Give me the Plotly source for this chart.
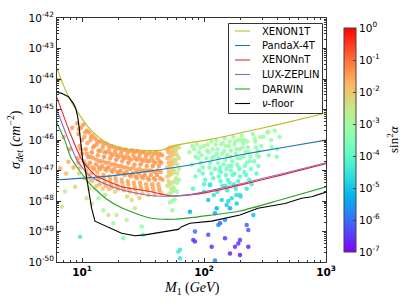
import math
import plotly.graph_objects as go

# ---------------- curve data (mass in GeV, log10 sigma in cm^2) ----------------
xenon1t_M = [6.0, 6.24, 7.03, 8.28, 11.2, 15.45, 21.3, 32.8, 43.6, 61.2, 116.4, 197, 420, 1014]
xenon1t_logsig = [-43.61, -43.67, -44.20, -44.79, -45.57, -46.07, -46.26, -46.35, -46.34, -46.16, -45.97, -45.77, -45.48, -45.11]

pandax_M = [6.0, 14.03, 36.1, 76.7, 197, 420, 1014]
pandax_logsig = [-47.31, -47.21, -47.02, -46.82, -46.49, -46.26, -46.0]

xenonnt_M = [6.0, 6.24, 7.98, 10.0, 12.79, 15.45, 21.3, 36.1, 52.6, 76.7, 112, 197, 420, 1014]
xenonnt_logsig = [-44.47, -44.62, -45.77, -46.66, -47.15, -47.31, -47.53, -47.69, -47.83, -47.80, -47.70, -47.48, -47.16, -46.77]

lz_M = [6.0, 6.24, 9.1, 11.61, 15.45, 21.3, 36.1, 52.6, 76.7, 112, 197, 420, 1014]
lz_logsig = [-44.85, -45.02, -46.66, -47.18, -47.44, -47.64, -47.82, -47.84, -47.79, -47.66, -47.44, -47.12, -46.74]

darwin_M = [6.0, 6.24, 7.26, 8.13, 11.2, 15.45, 21.3, 36.1, 57.8, 116.4, 197, 420, 1014]
darwin_logsig = [-45.28, -45.44, -46.03, -46.59, -47.37, -47.90, -48.23, -48.56, -48.60, -48.46, -48.33, -47.97, -47.53]

nufloor_M = [6.01, 6.82, 7.73, 8.49, 8.88, 9.22, 9.45, 9.75, 10.13, 10.59, 11.27, 12.0, 12.77, 15.4,
             21.1, 27.2, 32.8, 61.5, 65.6, 76.7, 115.6, 197, 277, 461, 632, 764, 1014]
nufloor_logsig = [-44.42, -44.47, -44.58, -44.80, -44.96, -45.24, -45.56, -46.00, -46.66, -46.93, -47.58,
                  -48.24, -48.66, -48.81, -49.06, -49.14, -49.11, -48.93, -48.84, -48.73, -48.66, -48.46,
                  -48.24, -48.08, -47.91, -47.86, -47.70]

# ---------------- scan points: (log10 M, log10 sigma, log10 sin^2 alpha) ----------------
pts_orange = [
    (0.96, -45.45, -1.5), (0.97, -45.8, -1.4), (0.98, -46.2, -1.6), (0.965, -46.6, -1.5), (0.99, -45.6, -1.3),
    (0.985, -46.9, -1.8), (1.0, -46.0, -1.4), (0.975, -47.1, -2.2), (1.0, -46.45, -1.5),
    (1.01, -45.5, -1.4), (1.02, -45.9, -1.5), (1.03, -46.3, -1.4), (1.015, -46.7, -1.6), (1.04, -45.7, -1.3),
    (1.045, -46.1, -1.5), (1.035, -47.0, -1.7), (1.02, -47.25, -2.1), (1.05, -46.55, -1.4), (1.05, -46.85, -1.5),
    (1.06, -45.75, -1.4), (1.07, -46.0, -1.5), (1.08, -46.4, -1.3), (1.065, -46.75, -1.4), (1.09, -45.85, -1.6),
    (1.1, -46.2, -1.4), (1.075, -47.1, -1.6), (1.095, -46.6, -1.5), (1.085, -47.35, -2.0), (1.1, -46.95, -1.4),
    (1.06, -47.6, -2.4),
    (1.11, -45.95, -1.4), (1.12, -46.15, -1.5), (1.13, -46.5, -1.4), (1.115, -46.8, -1.3), (1.14, -46.05, -1.5),
    (1.15, -46.35, -1.4), (1.125, -47.05, -1.6), (1.145, -46.7, -1.4), (1.135, -47.3, -1.5), (1.15, -46.95, -1.5),
    (1.12, -47.5, -1.9),
    (1.16, -46.05, -1.4), (1.17, -46.25, -1.5), (1.18, -46.55, -1.3), (1.165, -46.85, -1.4), (1.19, -46.1, -1.6),
    (1.2, -46.4, -1.4), (1.175, -47.15, -1.5), (1.195, -46.75, -1.4), (1.185, -47.4, -1.6), (1.2, -47.0, -1.5),
    (1.17, -47.6, -2.0), (1.19, -47.8, -2.5),
    (1.21, -46.15, -1.4), (1.22, -46.35, -1.5), (1.23, -46.6, -1.4), (1.215, -46.9, -1.3), (1.24, -46.2, -1.5),
    (1.25, -46.5, -1.4), (1.225, -47.2, -1.6), (1.245, -46.8, -1.4), (1.235, -47.45, -1.5), (1.25, -47.05, -1.5),
    (1.22, -47.6, -1.8),
    (1.26, -46.22, -1.4), (1.27, -46.4, -1.5), (1.28, -46.65, -1.3), (1.265, -46.95, -1.4), (1.29, -46.27, -1.5),
    (1.3, -46.55, -1.4), (1.275, -47.25, -1.5), (1.295, -46.85, -1.4), (1.285, -47.5, -1.6), (1.3, -47.1, -1.5),
    (1.27, -47.7, -2.2),
    (1.31, -46.28, -1.4), (1.32, -46.45, -1.5), (1.33, -46.7, -1.4), (1.315, -47.0, -1.3), (1.34, -46.32, -1.5),
    (1.35, -46.6, -1.4), (1.325, -47.3, -1.6), (1.345, -46.9, -1.4), (1.335, -47.55, -1.5), (1.35, -47.15, -1.5),
    (1.36, -46.32, -1.4), (1.37, -46.5, -1.5), (1.38, -46.75, -1.3), (1.365, -47.05, -1.4), (1.39, -46.36, -1.5),
    (1.4, -46.65, -1.4), (1.375, -47.35, -1.5), (1.395, -46.95, -1.4), (1.385, -47.6, -1.6), (1.4, -47.2, -1.5),
    (1.37, -47.85, -2.3),
    (1.41, -46.34, -1.4), (1.42, -46.5, -1.5), (1.43, -46.8, -1.4), (1.415, -47.1, -1.3), (1.44, -46.37, -1.5),
    (1.45, -46.65, -1.4), (1.425, -47.4, -1.6), (1.445, -47.0, -1.4), (1.435, -47.6, -1.5), (1.45, -47.25, -1.5),
    (1.46, -46.37, -1.4), (1.47, -46.55, -1.5), (1.48, -46.8, -1.3), (1.465, -47.1, -1.4), (1.49, -46.4, -1.5),
    (1.5, -46.7, -1.4), (1.475, -47.4, -1.5), (1.495, -47.0, -1.4), (1.485, -47.6, -1.6), (1.5, -47.25, -1.5),
    (1.47, -47.9, -2.0),
    (1.51, -46.4, -1.4), (1.52, -46.6, -1.5), (1.53, -46.85, -1.4), (1.515, -47.15, -1.3), (1.54, -46.45, -1.5),
    (1.55, -46.7, -1.4), (1.525, -47.45, -1.6), (1.545, -47.0, -1.4), (1.535, -47.65, -1.5), (1.55, -47.3, -1.5),
    (1.56, -46.4, -1.4), (1.57, -46.6, -1.5), (1.58, -46.85, -1.3), (1.565, -47.15, -1.4), (1.59, -46.45, -1.5),
    (1.6, -46.75, -1.4), (1.575, -47.45, -1.5), (1.595, -47.05, -1.4), (1.585, -47.65, -1.6), (1.6, -47.3, -1.5),
    (1.61, -46.4, -1.4), (1.62, -46.6, -1.5), (1.63, -46.85, -1.4), (1.615, -47.15, -1.3), (1.64, -46.45, -1.5),
    (1.65, -46.75, -1.4), (1.625, -47.45, -1.6), (1.645, -47.05, -1.4), (1.635, -47.65, -1.5), (1.66, -47.3, -1.5),
    (1.655, -46.5, -1.4),
    (0.806, -44.03, -1.5), (0.85, -45.9, -1.6), (0.9, -46.3, -1.5), (0.87, -47.1, -1.8), (0.93, -46.9, -1.6),
    (0.92, -45.6, -1.5), (0.82, -46.93, -1.6), (0.888, -46.71, -1.7),
]

pts_orange2 = [
    (0.975, -45.65, -1.5), (0.99, -46.3, -1.4), (0.97, -46.75, -1.6),
    (1.025, -45.75, -1.5), (1.04, -46.45, -1.4), (1.03, -46.8, -1.5), (1.045, -47.15, -1.8),
    (1.075, -45.9, -1.4), (1.09, -46.25, -1.5), (1.07, -46.55, -1.4), (1.085, -46.9, -1.5), (1.07, -47.3, -1.7),
    (1.125, -46.05, -1.5), (1.135, -46.35, -1.4), (1.12, -46.65, -1.5), (1.14, -46.9, -1.4), (1.13, -47.2, -1.6),
    (1.145, -47.45, -1.7),
    (1.175, -46.15, -1.5), (1.185, -46.4, -1.4), (1.17, -46.7, -1.5), (1.19, -46.95, -1.4), (1.18, -47.25, -1.6),
    (1.195, -47.5, -1.7),
    (1.225, -46.25, -1.5), (1.235, -46.45, -1.4), (1.22, -46.75, -1.5), (1.24, -47.0, -1.4), (1.23, -47.3, -1.6),
    (1.245, -47.55, -1.7),
    (1.275, -46.3, -1.5), (1.285, -46.5, -1.4), (1.27, -46.8, -1.5), (1.29, -47.05, -1.4), (1.28, -47.35, -1.6),
    (1.295, -47.6, -1.7),
    (1.325, -46.35, -1.5), (1.335, -46.55, -1.4), (1.32, -46.85, -1.5), (1.34, -47.1, -1.4), (1.33, -47.4, -1.6),
    (1.345, -47.65, -1.7),
    (1.375, -46.4, -1.5), (1.385, -46.6, -1.4), (1.37, -46.9, -1.5), (1.39, -47.15, -1.4), (1.38, -47.45, -1.6),
    (1.395, -47.7, -1.8),
    (1.425, -46.4, -1.5), (1.435, -46.6, -1.4), (1.42, -46.9, -1.5), (1.44, -47.2, -1.4), (1.43, -47.5, -1.6),
    (1.445, -47.75, -1.8),
    (1.475, -46.45, -1.5), (1.485, -46.65, -1.4), (1.47, -46.95, -1.5), (1.49, -47.2, -1.4), (1.48, -47.5, -1.6),
    (1.495, -47.75, -1.8),
    (1.525, -46.5, -1.5), (1.535, -46.7, -1.4), (1.52, -47.0, -1.5), (1.54, -47.25, -1.4), (1.53, -47.55, -1.6),
    (1.545, -47.8, -1.9),
    (1.575, -46.5, -1.5), (1.585, -46.7, -1.4), (1.57, -47.0, -1.5), (1.59, -47.25, -1.4), (1.58, -47.55, -1.6),
    (1.595, -47.8, -1.9),
    (1.625, -46.5, -1.5), (1.635, -46.7, -1.4), (1.62, -47.0, -1.5), (1.64, -47.25, -1.4), (1.63, -47.55, -1.6),
    (1.65, -47.75, -1.9),
]

pts_band = [
    (1.70, -46.3, -1.6), (1.70, -46.6, -1.7), (1.70, -46.9, -1.8), (1.70, -47.2, -2.0), (1.70, -47.5, -2.3), (1.70, -47.8, -2.6),
    (1.72, -46.25, -1.7), (1.72, -46.55, -1.8), (1.72, -46.85, -1.9), (1.72, -47.15, -2.1), (1.72, -47.45, -2.4),
    (1.72, -47.75, -2.7), (1.72, -48.05, -3.0),
    (1.74, -46.25, -1.8), (1.74, -46.5, -1.9), (1.74, -46.8, -2.0), (1.74, -47.1, -2.2), (1.74, -47.4, -2.5),
    (1.74, -47.7, -2.8), (1.74, -48.0, -3.1), (1.74, -48.3, -3.3),
    (1.76, -46.22, -2.0), (1.76, -46.45, -2.1), (1.76, -46.75, -2.2), (1.76, -47.05, -2.4), (1.76, -47.35, -2.6),
    (1.76, -47.65, -2.9), (1.76, -47.95, -3.2),
    (1.78, -46.22, -2.2), (1.78, -46.5, -2.3), (1.78, -46.8, -2.4), (1.78, -47.1, -2.6), (1.78, -47.4, -2.8), (1.78, -47.7, -3.0),
    (1.795, -46.25, -2.5), (1.795, -46.6, -2.6), (1.795, -46.95, -2.8), (1.795, -47.3, -3.0),
    (1.71, -46.4, -1.6), (1.71, -46.75, -1.8), (1.71, -47.05, -2.0), (1.71, -47.35, -2.2), (1.73, -46.4, -1.8),
    (1.73, -46.7, -1.9), (1.73, -47.0, -2.1), (1.73, -47.6, -2.6), (1.75, -46.35, -2.0), (1.75, -46.65, -2.1),
    (1.75, -46.95, -2.3), (1.75, -47.55, -2.7), (1.77, -46.35, -2.2), (1.77, -46.65, -2.3), (1.77, -47.25, -2.6),
]

pts_green = [
    (1.88, -46.4, -3.0), (1.9, -46.8, -3.3), (1.92, -46.3, -3.1), (1.93, -47.2, -3.8), (1.95, -46.6, -3.4),
    (1.91, -47.6, -4.2), (1.94, -46.15, -3.0),
    (1.97, -46.25, -3.1), (1.98, -46.5, -3.3), (1.99, -46.9, -3.6), (2.0, -46.2, -3.0), (2.01, -47.3, -4.0),
    (1.96, -47.0, -3.8), (2.02, -46.6, -3.4), (2.0, -47.7, -4.5),
    (2.03, -46.15, -3.0), (2.04, -46.4, -3.2), (2.05, -46.75, -3.5), (2.06, -47.1, -3.9), (2.07, -46.3, -3.2),
    (2.08, -46.55, -3.4), (2.09, -46.95, -3.7), (2.05, -47.45, -4.2), (2.08, -47.8, -4.6), (2.06, -46.05, -3.0),
    (2.1, -46.0, -3.0), (2.11, -46.3, -3.2), (2.12, -46.6, -3.4), (2.13, -46.9, -3.7), (2.14, -46.15, -3.1),
    (2.15, -46.45, -3.3), (2.16, -46.8, -3.6), (2.12, -47.2, -4.0), (2.15, -47.5, -4.3), (2.11, -47.7, -4.5),
    (2.14, -47.05, -3.9),
    (2.17, -45.95, -3.0), (2.18, -46.2, -3.1), (2.19, -46.5, -3.3), (2.2, -46.85, -3.6), (2.21, -46.05, -3.1),
    (2.22, -46.35, -3.3), (2.23, -46.7, -3.5), (2.18, -47.15, -4.0), (2.21, -47.4, -4.2), (2.19, -47.65, -4.5),
    (2.22, -47.0, -3.8), (2.2, -48.0, -4.8),
    (2.24, -45.9, -3.0), (2.25, -46.15, -3.1), (2.26, -46.45, -3.3), (2.27, -46.8, -3.6), (2.28, -46.0, -3.1),
    (2.29, -46.3, -3.3), (2.3, -46.6, -3.5), (2.25, -47.1, -3.9), (2.28, -47.35, -4.2), (2.26, -47.6, -4.4),
    (2.29, -46.95, -3.8), (2.3, -47.85, -4.7),
    (2.31, -45.85, -3.0), (2.32, -46.1, -3.1), (2.34, -46.4, -3.3), (2.35, -46.75, -3.6), (2.33, -46.0, -3.2),
    (2.36, -46.25, -3.3), (2.38, -46.55, -3.5), (2.33, -47.05, -3.9), (2.37, -47.3, -4.2), (2.35, -47.6, -4.5),
    (2.4, -45.8, -3.0), (2.42, -46.05, -3.1), (2.44, -46.35, -3.3), (2.41, -46.7, -3.6), (2.46, -45.9, -3.1),
    (2.45, -46.55, -3.4), (2.43, -47.1, -4.0), (2.47, -46.2, -3.2),
    (2.52, -45.75, -3.1), (2.55, -46.0, -3.2), (2.58, -45.7, -3.1), (2.6, -46.3, -3.4), (2.53, -46.5, -3.6),
    (2.62, -45.9, -3.2), (2.527, -45.73, -3.1), (2.555, -46.22, -3.3), (2.596, -46.55, -3.5), (2.486, -45.89, -3.2),
]

pts_green2 = [
    (2.025, -46.35, -3.2), (2.045, -46.9, -3.6), (2.065, -46.6, -3.4), (2.075, -47.25, -4.0),
    (2.095, -46.15, -3.1), (2.105, -46.45, -3.3), (2.115, -46.75, -3.5), (2.125, -47.0, -3.8), (2.135, -47.35, -4.1),
    (2.155, -46.1, -3.1), (2.165, -46.35, -3.2), (2.175, -46.65, -3.4), (2.185, -46.95, -3.7), (2.195, -47.3, -4.1),
    (2.175, -47.5, -4.4),
    (2.205, -46.2, -3.1), (2.215, -46.55, -3.4), (2.225, -46.85, -3.6), (2.235, -47.15, -4.0), (2.245, -47.45, -4.3),
    (2.255, -46.05, -3.1), (2.265, -46.3, -3.2), (2.275, -46.6, -3.4), (2.285, -46.9, -3.7), (2.295, -47.2, -4.0),
    (2.265, -47.8, -4.6),
    (2.305, -46.0, -3.1), (2.315, -46.25, -3.2), (2.325, -46.55, -3.4), (2.335, -46.85, -3.7), (2.345, -47.15, -4.0),
    (2.355, -46.05, -3.1), (2.365, -46.4, -3.3), (2.375, -46.7, -3.5), (2.385, -46.95, -3.8), (2.39, -47.45, -4.3),
    (2.415, -45.95, -3.1), (2.425, -46.25, -3.2), (2.435, -46.5, -3.4), (2.445, -46.85, -3.7),
    (1.96, -46.4, -3.2), (1.975, -46.75, -3.5), (1.99, -47.1, -3.9), (1.93, -46.55, -3.3), (1.905, -46.2, -3.0),
    (2.0, -47.45, -4.2),
]

pts_sparse = [
    (1.885, -48.35, -5.3), (2.035, -47.97, -5.0), (2.131, -48.73, -6.3), (1.912, -49.28, -6.5), (2.035, -49.11, -6.3),
    (2.063, -49.5, -6.6), (1.926, -49.0, -6.0), (2.172, -49.22, -6.5), (2.213, -49.72, -6.8), (2.254, -49.5, -6.6),
    (2.295, -49.28, -6.5), (2.35, -48.79, -6.1), (2.363, -48.95, -6.2), (2.363, -49.5, -6.7), (2.172, -48.62, -5.5),
    (2.213, -48.24, -5.3), (2.104, -48.24, -5.2), (1.803, -49.6, -4.5), (1.803, -49.88, -4.5), (2.09, -49.95, -5.8),
    (1.926, -49.33, -6.5), (2.117, -48.79, -5.6), (1.789, -49.66, -4.3), (2.049, -47.48, -4.5), (2.145, -47.97, -4.8),
    (2.186, -48.13, -4.9), (2.227, -47.91, -4.7), (2.268, -48.08, -4.9), (2.09, -48.4, -5.3), (2.295, -47.8, -4.6),
    (2.404, -48.46, -5.0), (2.281, -49.39, -6.6), (2.295, -49.77, -6.8),
    (0.984, -49.17, -4.3), (0.834, -48.19, -2.5), (0.861, -47.69, -2.8), (0.943, -47.53, -2.2), (1.134, -47.91, -3.0),
    (1.175, -48.30, -3.0), (1.284, -48.46, -2.7), (1.338, -49.22, -3.6), (1.366, -48.62, -2.8), (1.489, -48.84, -3.4),
    (1.502, -49.11, -4.0), (1.434, -48.24, -2.6), (1.107, -47.57, -2.2), (1.038, -47.91, -2.4), (1.216, -48.46, -2.5),
    (1.079, -48.08, -2.6), (1.257, -48.73, -2.9), (1.407, -47.97, -2.5),
]

ytick_exps = [-50, -49, -48, -47, -46, -45, -44, -43, -42]
xtick_exps = [1, 2, 3]
cbar_exps = [-7, -6, -5, -4, -3, -2, -1, 0]


# matplotlib "rainbow" colour map as a plotly colourscale
def rainbow(t):
    r = min(1.0, abs(2 * t - 0.5))
    g = math.sin(math.pi * t)
    b = math.cos(math.pi * t / 2)
    return "rgb(%d,%d,%d)" % (round(255 * r), round(255 * g), round(255 * max(b, 0)))


rainbow_scale = [[i / 20, rainbow(i / 20)] for i in range(21)]

all_pts = pts_orange + pts_orange2 + pts_band + pts_green + pts_green2 + pts_sparse
pt_M = [10 ** p[0] for p in all_pts]
pt_sig = [10 ** p[1] for p in all_pts]
pt_c = [p[2] for p in all_pts]

# plot-area geometry (pixels) used to place the hand-made legend and titles
L, R, T, B, W, H = 57, 81, 18, 43, 407, 305
PW, PH = W - L - R, H - T - B


def px(xp):
    return (xp - L) / PW


def py(yp):
    return (H - B - yp) / PH


fig = go.Figure()
fig.add_trace(go.Scatter(
    x=pt_M, y=pt_sig, mode="markers", showlegend=False, hoverinfo="skip",
    marker=dict(size=4.5, color=pt_c, colorscale=rainbow_scale, cmin=-7, cmax=0, opacity=0.85,
                line=dict(width=0),
                colorbar=dict(
                    x=px(334), xanchor="left", xref="paper", xpad=10,
                    y=0.5, yanchor="middle", len=1.0, lenmode="fraction",
                    thickness=12, outlinewidth=1, outlinecolor="#444",
                    tickmode="array", tickvals=cbar_exps,
                    ticktext=["10<sup>%d</sup>" % e for e in cbar_exps],
                    ticks="inside", ticklen=3, tickcolor="#444",
                    tickfont=dict(family="DejaVu Sans", size=10.5, color="black"),
                )),
))

curves = [
    ("XENON1T", xenon1t_M, xenon1t_logsig, "#bcbd22", "spline"),
    ("PandaX-4T", pandax_M, pandax_logsig, "#1f77b4", "spline"),
    ("XENONnT", xenonnt_M, xenonnt_logsig, "#e8282a", "spline"),
    ("LUX-ZEPLIN", lz_M, lz_logsig, "#9467bd", "spline"),
    ("DARWIN", darwin_M, darwin_logsig, "#2ca02c", "spline"),
    ("<i>ν</i>-floor", nufloor_M, nufloor_logsig, "black", "linear"),
]
for name, M, ls, col, shape in curves:
    fig.add_trace(go.Scatter(
        x=M, y=[10 ** v for v in ls], mode="lines", name=name, showlegend=False,
        line=dict(color=col, width=1.1, shape=shape, smoothing=0.6 if shape == "spline" else None),
        hoverinfo="skip",
    ))

# legend box drawn with shapes + annotations (compact matplotlib-like spacing)
shapes = [dict(type="rect", xref="paper", yref="paper", x0=px(228.5), x1=px(322.5), y0=py(113.5), y1=py(23.5),
               fillcolor="white", line=dict(color="#333", width=1), layer="above")]
annotations = []
leg_y = [31, 45.5, 60, 74.5, 89, 103.5]
for (name, M, ls, col, shape), yp in zip(curves, leg_y):
    shapes.append(dict(type="line", xref="paper", yref="paper", x0=px(235), x1=px(250), y0=py(yp), y1=py(yp),
                       line=dict(color=col, width=1.1), layer="above"))
    annotations.append(dict(xref="paper", yref="paper", x=px(260), y=py(yp), xanchor="left", yanchor="middle",
                            text=name, showarrow=False,
                            font=dict(family="DejaVu Sans", size=10, color="black")))

# axis / colourbar titles placed like the reference
annotations.append(dict(xref="paper", yref="paper", x=px(192), y=py(288), xanchor="center", yanchor="middle",
                        text="<i>M</i><sub>1</sub> (<i>GeV</i>)", showarrow=False,
                        font=dict(family="Liberation Serif", size=14, color="black")))
annotations.append(dict(xref="paper", yref="paper", x=px(15), y=py(140), xanchor="center", yanchor="middle",
                        textangle=-90, text="<i>σ<sub>det</sub></i> (<i>cm</i><sup>−2</sup>)", showarrow=False,
                        font=dict(family="Liberation Serif", size=14, color="black")))
annotations.append(dict(xref="paper", yref="paper", x=px(393), y=py(139), xanchor="center", yanchor="middle",
                        textangle=-90, text="sin<sup>2</sup><i>α</i>", showarrow=False,
                        font=dict(family="Liberation Serif", size=13, color="black")))

minor_x = [k * 10 ** n for n in range(0, 3) for k in range(2, 10)]
minor_y = [k * 10.0 ** n for n in range(-50, -42) for k in range(2, 10)]

axis_common = dict(showline=True, linecolor="#333", linewidth=1, mirror="allticks", ticks="inside",
                   ticklen=4, tickcolor="#333", showgrid=False, zeroline=False)

fig.update_layout(
    width=W, height=H,
    margin=dict(l=L, r=R, t=T, b=B, autoexpand=False),
    paper_bgcolor="white", plot_bgcolor="white",
    showlegend=False,
    shapes=shapes, annotations=annotations,
    xaxis=dict(type="log", range=[0.795, 3.0], tickmode="array", tickvals=[10 ** e for e in xtick_exps],
               ticktext=["<b>10<sup>%d</sup></b>" % e for e in xtick_exps],
               tickfont=dict(family="DejaVu Sans", size=10.5, color="black"),
               minor=dict(ticks="inside", ticklen=2, tickcolor="#333", tickmode="array", tickvals=minor_x,
                          showgrid=False),
               **axis_common),
    yaxis=dict(type="log", range=[-50, -42], tickmode="array", tickvals=[10.0 ** e for e in ytick_exps],
               ticktext=["10<sup>%d</sup>" % e for e in ytick_exps],
               tickfont=dict(family="DejaVu Sans", size=10.5, color="black"),
               minor=dict(ticks="inside", ticklen=2, tickcolor="#333", tickmode="array", tickvals=minor_y,
                          showgrid=False),
               **axis_common),
)

# remove the default page margin so the 407x305 figure fills the window exactly; hide the mode bar
fig.write_html("out.html", config={"displayModeBar": False},
               post_script="document.body.style.margin='0';document.body.style.overflow='hidden';")
